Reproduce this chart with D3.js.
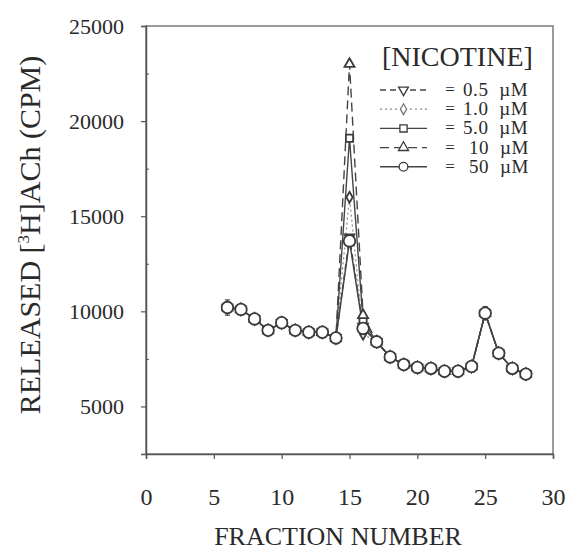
<!DOCTYPE html>
<html><head><meta charset="utf-8">
<script src="https://cdn.jsdelivr.net/npm/d3@7"></script>
</head><body style="margin:0">
<svg id="c" width="568" height="551" font-family="Liberation Serif"></svg>
<script>
// ---- data ----
const fractions = [6,7,8,9,10,11,12,13,14,15,16,17,18,19,20,21,22,23,24,25,26,27,28];
const nic05 = [10200,10100,9600,9000,9400,9000,8900,8900,8600,13900,9200,8400,7600,7200,7050,7000,6850,6850,7100,9900,7800,7000,6700];
const nic1  = [10200,10100,9600,9000,9400,9000,8900,8900,8600,16000,8800,8400,7600,7200,7050,7000,6850,6850,7100,9900,7800,7000,6700];
const nic5  = [10200,10100,9600,9000,9400,9000,8900,8900,8600,19100,9500,8400,7600,7200,7050,7000,6850,6850,7100,9900,7800,7000,6700];
const nic10 = [10200,10100,9600,9000,9400,9000,8900,8900,8600,23000,9800,8400,7600,7200,7050,7000,6850,6850,7100,9900,7800,7000,6700];
const nic50 = [10200,10100,9600,9000,9400,9000,8900,8900,8600,13700,9100,8400,7600,7200,7050,7000,6850,6850,7100,9900,7800,7000,6700];
const err50 = [400,0,0,0,0,0,0,0,0,0,0,0,0,0,0,0,0,0,0,350,0,0,0];
const seriesLabels = ["0.5","1.0","5.0","10","50"];
const xTicks = [0,5,10,15,20,25,30];
const yTicks = [5000,10000,15000,20000,25000];
const yMinor = [7500,12500,17500,22500];

// ---- layout ----
const TXT = "#2a2a2a";
const svg = d3.select("#c");
function serif(sel, size){
  return sel.attr("font-family","Liberation Serif").style("font-family",'"Liberation Serif"')
    .attr("font-size",size).attr("fill",TXT);
}
const L=146, R=553, T=26, B=454;
const x = d3.scaleLinear().domain([0,30]).range([L,R]);
const y = d3.scaleLinear().domain([2500,25000]).range([B,T]);
const axisCol = "#555";

// frame
svg.append("rect").attr("x",L).attr("y",T).attr("width",R-L).attr("height",B-T)
  .attr("fill","none").attr("stroke","#666").attr("stroke-width",1.3);

// y axis
const ya = svg.append("g").attr("transform",`translate(${L},0)`)
  .call(d3.axisLeft(y).tickValues(yTicks).tickSize(5).tickPadding(17).tickFormat(d3.format("d")));
ya.attr("font-family",null).attr("font-size",null);
ya.select(".domain").attr("stroke",axisCol).attr("stroke-width",1.5);
ya.selectAll(".tick line").attr("stroke",axisCol).attr("stroke-width",1.2);
serif(ya.selectAll("text"),22);
svg.append("g").attr("transform",`translate(${L},0)`)
  .call(d3.axisRight(y).tickValues(yMinor).tickSize(3).tickFormat(""))
  .call(g=>{g.select(".domain").remove();g.selectAll("line").attr("stroke",axisCol);});

// x axis
const xa = svg.append("g").attr("transform",`translate(0,${B})`)
  .call(d3.axisBottom(x).tickValues(xTicks).tickSize(5).tickPadding(29));
xa.attr("font-family",null).attr("font-size",null);
xa.select(".domain").attr("stroke",axisCol).attr("stroke-width",1.5);
xa.selectAll(".tick line").attr("stroke",axisCol).attr("stroke-width",1.2);
serif(xa.selectAll("text"),24);

// axis titles
serif(svg.append("text"),26).attr("x",338).attr("y",545).attr("text-anchor","middle")
  .text("FRACTION NUMBER");
const yt = serif(svg.append("text"),30).attr("transform","translate(40,235) rotate(-90)")
  .attr("text-anchor","middle");
yt.append("tspan").text("RELEASED [");
yt.append("tspan").attr("font-size",17).attr("dy",-11).text("3");
yt.append("tspan").attr("dy",11).text("H]ACh (CPM)");

// series
const lineCol = "#444";
const series = [
  {vals:nic05, dash:"6,4", sym:d3.symbolTriangle, size:42, rot:180, col:"#444", w:1.4},
  {vals:nic1,  dash:"2,3", sym:d3.symbolDiamond, size:34, rot:0, col:"#888", w:1.2},
  {vals:nic5,  dash:null,  sym:d3.symbolSquare, size:52, rot:0, col:"#444", w:1.4},
  {vals:nic10, dash:"9,5", sym:d3.symbolTriangle, size:44, rot:0, col:"#444", w:1.4},
  {vals:nic50, dash:null,  sym:d3.symbolCircle, size:105, rot:0, col:"#444", w:1.5}
];
const line = d3.line().x((d,i)=>x(fractions[i])).y(d=>y(d));
series.forEach(s=>{
  svg.append("path").attr("d",line(s.vals)).attr("fill","none")
    .attr("stroke",s.col).attr("stroke-width",s.w)
    .attr("stroke-dasharray",s.dash);
});
// error bars
nic50.forEach((v,i)=>{
  if(err50[i]>0){
    const cx=x(fractions[i]);
    svg.append("line").attr("x1",cx).attr("x2",cx).attr("y1",y(v+err50[i])).attr("y2",y(v-err50[i]))
      .attr("stroke",lineCol).attr("stroke-width",1.3);
    [v+err50[i],v-err50[i]].forEach(e=>svg.append("line").attr("x1",cx-2.5).attr("x2",cx+2.5)
      .attr("y1",y(e)).attr("y2",y(e)).attr("stroke",lineCol).attr("stroke-width",1.2));
  }
});
series.forEach(s=>{
  const sym=d3.symbol().type(s.sym).size(s.size);
  svg.append("g").selectAll("path").data(s.vals).join("path")
    .attr("d",sym)
    .attr("transform",(d,i)=>`translate(${x(fractions[i])},${y(d)}) rotate(${s.rot})`)
    .attr("fill","#fff").attr("stroke","#3a3a3a").attr("stroke-width",1.8);
});

// legend
serif(svg.append("text"),28).attr("x",382).attr("y",66).text("[NICOTINE]");
series.forEach((s,i)=>{
  const ly = 90 + i*19.2;
  svg.append("line").attr("x1",380).attr("x2",427).attr("y1",ly).attr("y2",ly)
    .attr("stroke",s.col).attr("stroke-width",s.w).attr("stroke-dasharray",s.dash);
  svg.append("path").attr("d",d3.symbol().type(s.sym).size(i===4?60:s.size)())
    .attr("transform",`translate(403.5,${ly}) rotate(${s.rot})`)
    .attr("fill","#fff").attr("stroke", i===1?"#777":"#3a3a3a").attr("stroke-width",1.3);
  serif(svg.append("text"),17).attr("x",450).attr("y",ly+5).attr("text-anchor","middle").text("=");
  serif(svg.append("text"),19).attr("x",seriesLabels[i].length>2?463:469).attr("y",ly+6)
    .attr("letter-spacing",0.6)
    .text(seriesLabels[i]+"\u00a0\u00a0\u00b5M");
});
</script>
</body></html>
